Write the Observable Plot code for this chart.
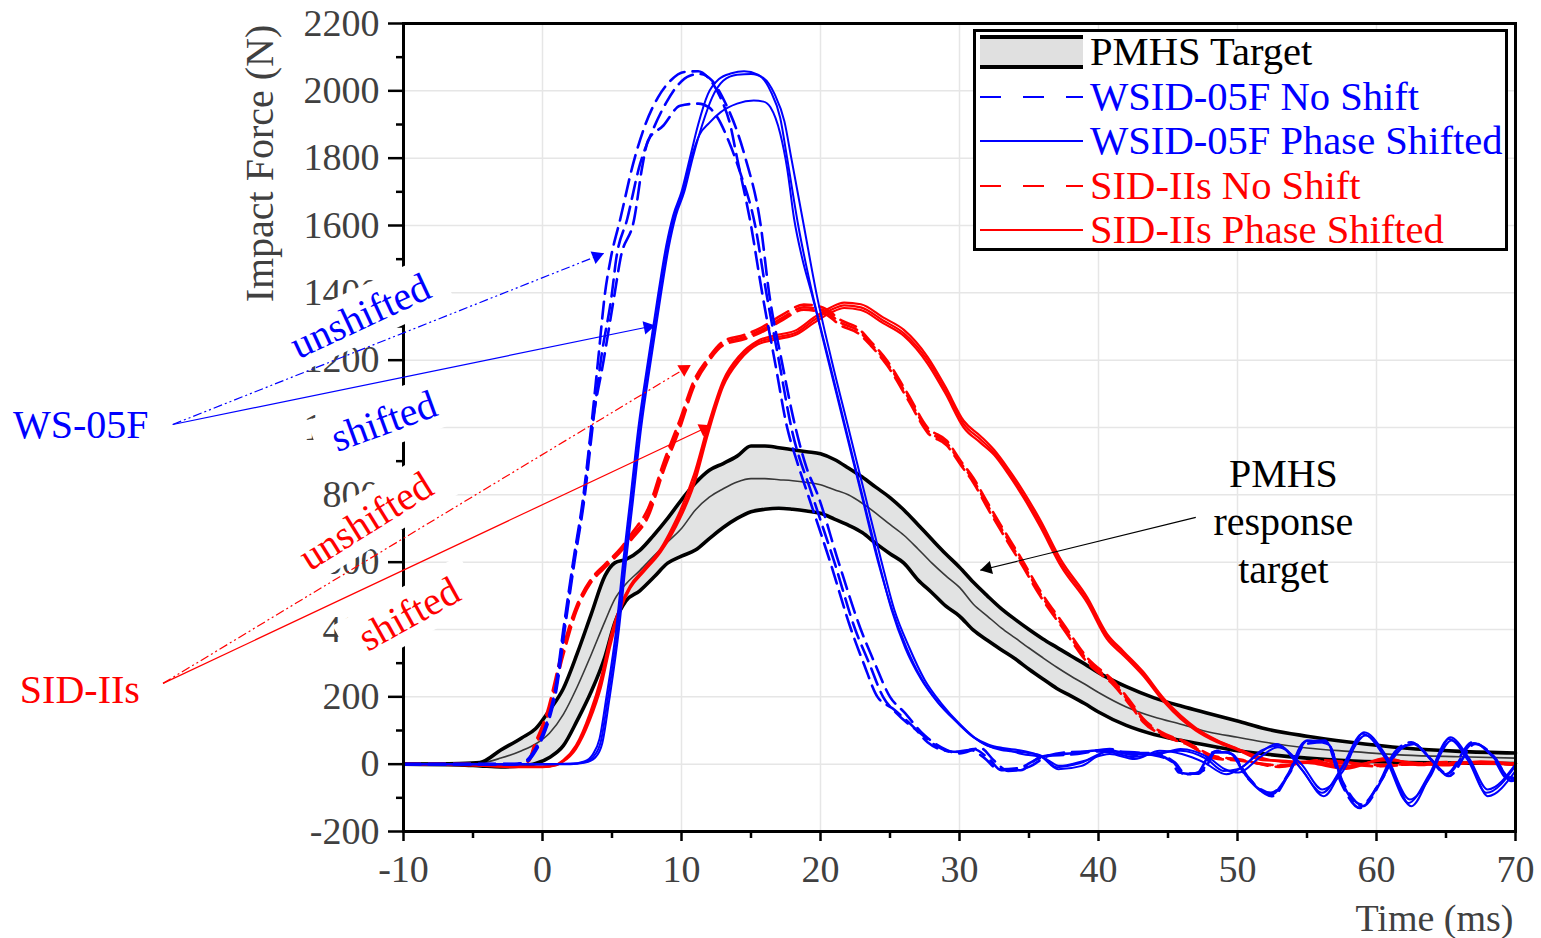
<!DOCTYPE html>
<html><head><meta charset="utf-8">
<script src="https://cdn.jsdelivr.net/npm/d3@7"></script>
<script src="https://cdn.jsdelivr.net/npm/@observablehq/plot@0.6"></script>
<style>
body{margin:0;background:#fff;font-family:"Liberation Serif","Times New Roman",serif;}
#wrap{position:relative;width:1541px;height:938px;overflow:hidden;}
#legend{position:absolute;left:973px;top:29px;width:535px;height:222px;border:3px solid #000;box-sizing:border-box;background:#fff;}
.row{position:absolute;left:4px;height:44px;display:flex;align-items:center;}
.row span{font-size:40.6px;margin-left:7px;line-height:1;white-space:nowrap;}
</style></head><body><div id="wrap"></div>
<script>
// ---------------- DATA ----------------
const xTicks = [-10, 0, 10, 20, 30, 40, 50, 60, 70];
const yTicks = [-200, 0, 200, 400, 600, 800, 1000, 1200, 1400, 1600, 1800, 2000, 2200];

// PMHS corridor (time in ms, force in N)
const pmhsTime  = [-10,-6,-4.5,-3,-1.5,-0.5,0.5,1.5,2.5,3.5,4.5,5.2,6,7,8,9,10,11,12,13,14,15,16,17,18,19,20,21,22,23,24,25,26,27,28,29,30,31,32,33,34,35,36,37,38,39,40,42,44,46,48,50,52,55,58,62,66,70];
const pmhsUpper = [0,2,5,42,78,105,160,225,329,445,560,598,608,635,680,730,785,835,873,893,915,945,945,940,934,928,922,905,880,853,822,792,755,712,668,625,585,540,500,462,430,400,372,347,322,298,272,230,197,172,150,128,105,83,66,48,38,33];
const pmhsMean  = [0,0,3,18,40,60,92,148,230,325,425,490,535,575,618,660,700,755,793,818,838,848,848,845,842,837,830,815,800,775,745,712,680,640,598,560,525,475,440,405,375,345,316,288,262,238,213,170,140,118,95,80,65,48,38,27,22,18];
const pmhsLower = [0,-2,-5,-8,-5,2,20,55,130,215,320,420,485,515,555,597,618,636,670,703,730,750,757,760,757,752,745,728,710,688,655,625,597,548,510,470,440,398,368,340,313,282,253,225,203,180,155,115,88,70,55,40,30,18,10,5,3,2];

// WSID-05F, no shift (three tests) [time, force]
const wsidNoShiftA = [[-10,0],[-5,0],[-2,0],[-1.2,10],[-0.6,40],[0,90],[0.5,150],[0.9,220],[1.5,400],[2.2,600],[2.95,800],[3.5,1000],[4.0,1200],[4.5,1400],[4.9,1500],[5.6,1620],[6.5,1780],[7.4,1900],[8.3,1980],[9.2,2030],[10.2,2056],[11.2,2058],[11.9,2040],[12.8,1980],[13.5,1900],[14,1800],[15,1600],[15.8,1400],[16.7,1200],[17.6,1000],[18.3,900],[19.1,800],[20.7,600],[22.2,400],[23.1,300],[24.1,200],[25.2,165],[26.7,110],[27.7,65],[29,40],[30.1,36],[31,45],[32.2,12],[33,-18],[34.4,-18],[35.8,21],[38.2,33],[40.6,42],[42,33],[43.5,33],[45.2,10],[45.8,-25],[47,-30],[48.2,35],[49.4,35],[50.6,-35],[52.4,-90],[53.7,-25],[54.8,65],[56.3,70],[57.5,-60],[58.8,-130],[60.2,-55],[61.3,35],[62.5,65],[63.8,20],[65,-30],[66.9,65],[68.3,25],[69.5,-45],[70,-40]];
const wsidNoShiftB = [[-10,0],[-5,0],[-2,0],[-1.1,8],[-0.5,38],[0.1,88],[0.6,150],[1.0,220],[1.6,400],[2.3,600],[3.05,800],[3.6,1000],[4.2,1200],[5.0,1400],[5.3,1500],[6.1,1620],[7.0,1780],[7.9,1880],[8.9,1965],[9.8,2020],[10.6,2045],[11.3,2050],[12.2,2030],[13.2,1960],[14,1880],[14.6,1800],[15.7,1600],[16.3,1400],[17.2,1200],[18.2,1000],[19.0,880],[19.8,800],[21.3,600],[22.9,400],[23.9,300],[25,200],[26,155],[27.5,85],[28.7,50],[30,32],[31.5,48],[32.5,10],[33.5,-20],[35,-8],[36.5,25],[38.5,30],[40.8,45],[42.5,28],[44,30],[45.5,5],[46.3,-30],[47.5,-20],[48.5,40],[49.6,30],[50.8,-40],[52.5,-95],[53.8,-20],[55,70],[56.5,60],[57.7,-70],[59,-125],[60.4,-45],[61.5,40],[62.7,60],[64,10],[65.2,-35],[67.1,60],[68.5,20],[69.7,-50],[70,-45]];
const wsidNoShiftC = [[-10,0],[-5,0],[-2,0],[-1.15,9],[-0.55,39],[0.05,89],[0.55,150],[0.95,220],[1.55,400],[2.25,600],[3.0,800],[3.55,1000],[4.4,1200],[5.2,1400],[5.6,1500],[6.6,1620],[7.2,1780],[7.6,1853],[8.7,1897],[9.9,1956],[11.2,1962],[12,1950],[12.6,1920],[13.4,1850],[14.2,1760],[15.3,1600],[16.1,1400],[17,1200],[17.9,1000],[19.4,800],[21,600],[22.5,400],[23.5,300],[24.5,200],[25.5,150],[27.1,95],[28.2,58],[29.5,36],[30.8,42],[31.8,18],[32.8,-15],[34.2,-12],[35.6,15],[38,36],[40.4,38],[42.2,36],[43.8,28],[45.4,5],[46.1,-28],[47.2,-28],[48.4,38],[49.5,32],[50.7,-38],[52.4,-85],[53.7,-30],[54.9,60],[56.4,65],[57.6,-55],[58.9,-120],[60.3,-50],[61.4,30],[62.6,62],[63.9,15],[65.1,-28],[67,62],[68.4,22],[69.6,-40],[70,-38]];

// WSID-05F, phase shifted (three tests) [time, force]
const wsidShiftA = [[-10,0],[-5,0],[0,0],[2,1],[3,8],[3.6,28],[4.1,75],[4.6,200],[5.3,400],[5.8,600],[6.3,780],[6.9,1000],[7.6,1200],[8.3,1390],[8.9,1540],[9.4,1630],[10,1700],[10.6,1800],[11.2,1900],[11.9,1990],[12.7,2035],[13.6,2052],[14.5,2058],[15.5,2048],[16.4,2000],[17.1,1920],[17.6,1800],[18.4,1600],[19.4,1400],[20.6,1200],[21.8,1000],[23,800],[24.2,600],[25.1,460],[26.1,345],[27.2,255],[28.4,185],[29.8,125],[31,80],[32,55],[33,42],[34.6,35],[35.8,27],[37,-9],[38.7,3],[40.6,36],[42.5,21],[44.2,33],[45.9,40],[47.8,15],[49,-20],[50,-15],[51.5,30],[52.8,60],[54.5,-10],[56.1,-85],[57.5,-10],[59,90],[60.6,20],[62.3,-115],[63.8,-30],[65.2,75],[66.6,10],[67.9,-85],[70,-5]];
const wsidShiftB = [[-10,0],[-5,0],[0,0],[2,0],[3,4],[3.8,20],[4.3,62],[4.8,190],[5.5,400],[6.0,600],[6.5,780],[7.1,1000],[7.8,1200],[8.5,1390],[9.1,1540],[9.6,1630],[10.2,1700],[10.8,1800],[11.5,1900],[12.2,1980],[13,2030],[14,2048],[15,2050],[15.9,2038],[16.7,1990],[17.4,1910],[17.9,1800],[18.8,1600],[19.7,1400],[20.8,1200],[22,1000],[23.2,800],[24.4,600],[25.3,460],[26.4,345],[27.5,250],[28.7,180],[30,120],[31.2,75],[32.2,52],[33.2,45],[34.5,30],[36,20],[37.2,-5],[39,10],[40.8,30],[42.6,15],[44.4,40],[46,30],[47.6,5],[49.2,-30],[50.3,-10],[51.7,40],[53,55],[54.7,-20],[56.2,-95],[57.7,0],[59.2,85],[60.8,10],[62.5,-125],[64,-20],[65.4,70],[66.8,0],[68,-95],[70,-20]];
const wsidShiftC = [[-10,0],[-5,0],[0,0],[2,1],[3,6],[3.7,24],[4.2,68],[4.7,195],[5.4,400],[5.9,600],[6.4,780],[7,1000],[7.7,1200],[8.4,1390],[9,1540],[9.5,1630],[10.1,1700],[10.7,1800],[11.3,1870],[12,1905],[12.8,1936],[14,1962],[15.2,1971],[15.9,1968],[16.4,1951],[17.1,1873],[17.6,1770],[18.1,1620],[18.7,1500],[19.35,1400],[20.55,1200],[21.75,1000],[22.95,800],[24.15,600],[25.15,460],[26.2,345],[27.3,252],[28.5,182],[29.9,122],[31.1,78],[32.1,58],[33.1,48],[34.5,40],[35.9,22],[37.1,-15],[38.8,-5],[40.7,40],[42.5,28],[44.3,30],[45.9,45],[47.9,20],[49.1,-15],[50.1,-25],[51.6,20],[52.9,50],[54.6,0],[56.1,-75],[57.6,-20],[59.1,95],[60.7,25],[62.4,-105],[63.9,-35],[65.3,80],[66.7,15],[68,-75],[70,0]];

// SID-IIs, no shift (three tests)
const sidNoShiftTime = [-10,-5,-2,-1,-0.6,0.3,1.5,2.4,3.5,4.4,5.6,6.5,7.6,8.7,9.9,10.9,11.9,13,14.5,15.7,17.3,18.8,20.2,21.5,22.7,23.6,24.8,26.3,27.7,29.1,30.1,31,32,33,34.4,35.8,37.5,39.2,41.1,42.5,43.2,44.5,46.4,48.3,50.2,53,56,60,65,70];
const sidNoShiftA = [0,0,-3,10,50,140,338,457,546,585,635,680,745,882,1012,1131,1199,1250,1268,1288,1327,1357,1348,1310,1288,1250,1191,1090,992,953,894,843,770,700,606,507,407,309,240,169,131,92,62,21,12,-5,10,-5,5,0];
const sidNoShiftB = [0,0,-2,12,55,150,350,465,550,590,640,690,760,895,1025,1140,1205,1256,1275,1296,1336,1365,1356,1318,1295,1256,1198,1098,1000,960,900,850,778,708,614,515,415,316,246,175,136,96,64,24,14,-8,12,-2,3,2];
const sidNoShiftC = [0,0,-4,8,45,132,325,450,540,580,630,672,735,870,1000,1122,1193,1244,1262,1282,1320,1350,1340,1302,1280,1244,1184,1082,985,946,888,836,762,692,598,500,400,302,234,163,126,88,58,18,10,-3,8,-6,6,-2];

// SID-IIs, phase shifted (three tests)
const sidShiftTime = [-10,-5,-2,0,1,1.5,2.4,3.4,4.2,4.9,5.6,6.3,7.3,8.5,9.3,9.9,10.9,11.9,13,14.2,15.5,16.9,18.3,19.5,20.7,21.7,22.9,24.5,26,27.7,29,30.3,31.5,32.5,33.5,34.6,35.8,37.3,39.2,40.6,41.8,43.2,44.7,45.9,47,48.5,50,51.8,53.5,55.4,57.8,60.7,63,65,67.5,70];
const sidShiftA = [0,-3,-8,-8,-2,10,50,140,240,368,466,526,576,635,690,740,843,992,1131,1208,1253,1268,1283,1318,1348,1363,1357,1318,1280,1200,1110,1010,965,925,870,800,716,597,487,380,330,270,190,140,105,70,45,15,8,5,-10,15,0,0,5,0];
const sidShiftB = [0,-2,-6,-7,-1,12,55,150,255,380,470,530,580,640,700,752,860,1005,1140,1215,1258,1275,1290,1326,1356,1371,1366,1327,1290,1210,1120,1020,975,933,878,810,726,607,495,388,335,275,195,145,108,72,46,18,6,8,-5,12,3,-4,8,2];
const sidShiftC = [0,-4,-9,-9,-3,8,45,130,228,355,458,522,572,630,682,730,830,980,1122,1200,1247,1262,1277,1310,1340,1355,1349,1310,1272,1190,1100,1000,955,918,862,792,706,588,478,372,323,263,185,135,100,66,42,12,10,2,-14,18,-3,2,3,-2];

const legendLabels = ["PMHS Target", "WSID-05F No Shift", "WSID-05F Phase Shifted", "SID-IIs No Shift", "SID-IIs Phase Shifted"];

// ---------------- LAYOUT / STYLE ----------------
const W = 1541, H = 938, ML = 403, MR = 26, MT = 23, MB = 107;
const X0 = -10, X1 = 70, Y0 = -200, Y1 = 2200;
const pxPerT = (W - ML - MR) / (X1 - X0);
const pxPerF = (H - MT - MB) / (Y1 - Y0);
const BLUE = "#0000ff", RED = "#ff0000", AXIS_TEXT = "#404040";
const FONT = '"Liberation Serif","Times New Roman",serif';
const DASH = "17,8";
const legendStyles = [
  {kind: "band"}, {color: BLUE, dash: "21,22"}, {color: BLUE}, {color: RED, dash: "21,22"}, {color: RED}
];

// ---------------- BUILD ROWS ----------------
const pmhs = pmhsTime.map((t, i) => ({t, hi: pmhsUpper[i], mean: pmhsMean[i], lo: pmhsLower[i]}));
const fromPairs = (pairs, s) => pairs.map(([t, f]) => ({t, f, s}));
const fromCols = (times, vals, s) => times.map((t, i) => ({t, f: vals[i], s}));

const blueDashed = [...fromPairs(wsidNoShiftA, "a"), ...fromPairs(wsidNoShiftB, "b"), ...fromPairs(wsidNoShiftC, "c")];
const blueSolid = [...fromPairs(wsidShiftA, "a"), ...fromPairs(wsidShiftB, "b"), ...fromPairs(wsidShiftC, "c")];
const redDashed = [...fromCols(sidNoShiftTime, sidNoShiftA, "a"), ...fromCols(sidNoShiftTime, sidNoShiftB, "b"), ...fromCols(sidNoShiftTime, sidNoShiftC, "c")];
const redSolid = [...fromCols(sidShiftTime, sidShiftA, "a"), ...fromCols(sidShiftTime, sidShiftB, "b"), ...fromCols(sidShiftTime, sidShiftC, "c")];

// annotations (data units)
const annoArrows = [
  {x1: -26.6, y1: 1009, x2: 4.4, y2: 1517, color: BLUE, dashed: true},
  {x1: -26.6, y1: 1009, x2: 8.1, y2: 1303, color: BLUE, dashed: false},
  {x1: -27.3, y1: 240, x2: 10.65, y2: 1185, color: RED, dashed: true},
  {x1: -27.3, y1: 240, x2: 12.1, y2: 1006, color: RED, dashed: false},
  {x1: 47.0, y1: 733, x2: 31.5, y2: 576, color: "#000", dashed: false}
];
annoArrows.forEach(d => {
  const dx = (d.x2 - d.x1) * pxPerT, dy = -(d.y2 - d.y1) * pxPerF;
  const th = Math.atan2(dy, dx);
  d.rot = th * 180 / Math.PI + 90;
  d.hx = d.x2 - Math.cos(th) * 7.5 / pxPerT;
  d.hy = d.y2 + Math.sin(th) * 7.5 / pxPerF;
});
const rotLabels = [
  {x: -13.1, y: 1330, text: "unshifted", color: BLUE, rot: -25},
  {x: -11.4, y: 1018, text: "shifted", color: BLUE, rot: -20},
  {x: -12.7, y: 721, text: "unshifted", color: RED, rot: -32},
  {x: -9.6, y: 445, text: "shifted", color: RED, rot: -29}
];

const lineOpts = {x: "t", y: "f", z: "s", curve: "monotone-x"};

const chart = Plot.plot({
  width: W, height: H,
  marginLeft: ML, marginRight: MR, marginTop: MT, marginBottom: MB,
  x: {domain: [X0, X1]},
  y: {domain: [Y0, Y1]},
  style: {fontFamily: FONT, background: "white", color: "black"},
  marks: [
    Plot.gridX(xTicks, {stroke: "#e6e6e6", strokeOpacity: 1, strokeWidth: 1.5}),
    Plot.gridY(yTicks, {stroke: "#e6e6e6", strokeOpacity: 1, strokeWidth: 1.5}),
    Plot.areaY(pmhs, {x: "t", y1: "lo", y2: "hi", fill: "#e2e3e3", curve: "monotone-x"}),
    Plot.line(pmhs, {x: "t", y: "mean", stroke: "#383838", strokeWidth: 1.6, curve: "monotone-x"}),
    Plot.line(pmhs, {x: "t", y: "hi", stroke: "#000", strokeWidth: 3.6, curve: "monotone-x"}),
    Plot.line(pmhs, {x: "t", y: "lo", stroke: "#000", strokeWidth: 3.6, curve: "monotone-x"}),
    Plot.line(redDashed, {...lineOpts, stroke: RED, strokeWidth: 2.6, strokeDasharray: DASH}),
    Plot.line(redSolid, {...lineOpts, stroke: RED, strokeWidth: 2.2}),
    Plot.line(blueDashed, {...lineOpts, stroke: BLUE, strokeWidth: 2.6, strokeDasharray: DASH}),
    Plot.line(blueSolid, {...lineOpts, stroke: BLUE, strokeWidth: 2.0}),
    Plot.frame({stroke: "#000", strokeWidth: 3}),
    Plot.axisY(yTicks, {tickSize: 15, tickPadding: 9, fontSize: 38, fill: AXIS_TEXT, stroke: "#000", strokeWidth: 2.5, tickFormat: d => String(d), label: null}),
    Plot.axisY(yTicks.slice(0, -1).map(v => v + 100), {tickSize: 7, stroke: "#000", strokeWidth: 2.5, tickFormat: () => "", label: null}),
    Plot.axisX(xTicks, {tickSize: 10, tickPadding: 14, fontSize: 38, fill: AXIS_TEXT, stroke: "#000", strokeWidth: 2.5, tickFormat: d => String(d), label: null}),
    Plot.axisX(xTicks.slice(0, -1).map(v => v + 5), {tickSize: 7, stroke: "#000", strokeWidth: 2.5, tickFormat: () => "", label: null}),
    Plot.text([{label: "Impact Force (N)"}], {text: "label", frameAnchor: "top-left", dx: -143, dy: 140, rotate: -90, textAnchor: "middle", lineAnchor: "middle", fontSize: 40, fill: AXIS_TEXT}),
    Plot.text([{label: "Time (ms)"}], {text: "label", frameAnchor: "bottom-right", dx: -2, dy: 87, textAnchor: "end", lineAnchor: "middle", fontSize: 38, fill: AXIS_TEXT}),
    // rotated annotation labels (white boxes are added behind them below)
    ...rotLabels.map(d => Plot.text([d], {x: "x", y: "y", text: "text", rotate: d.rot, fill: d.color, fontSize: 40, textAnchor: "middle", lineAnchor: "middle"})),
    Plot.text([{x: -38.1, y: 1006, label: "WS-05F"}], {x: "x", y: "y", text: "label", textAnchor: "start", lineAnchor: "middle", fontSize: 40, fill: BLUE}),
    Plot.text([{x: -37.6, y: 220, label: "SID-IIs"}], {x: "x", y: "y", text: "label", textAnchor: "start", lineAnchor: "middle", fontSize: 40, fill: RED}),
    Plot.text([{x: 53.3, y: 727, label: "PMHS\nresponse\ntarget"}], {x: "x", y: "y", text: "label", textAnchor: "middle", lineAnchor: "middle", lineHeight: 1.21, fontSize: 40, fill: "#000"}),
    Plot.link(annoArrows.filter(d => d.dashed), {x1: "x1", y1: "y1", x2: "x2", y2: "y2", stroke: "color", strokeWidth: 1.2, strokeDasharray: "9,3,2,3,2,3"}),
    Plot.link(annoArrows.filter(d => !d.dashed), {x1: "x1", y1: "y1", x2: "x2", y2: "y2", stroke: "color", strokeWidth: 1.2}),
    Plot.dot(annoArrows, {x: "hx", y: "hy", symbol: "triangle", r: 5, fill: "color", stroke: null, rotate: "rot"})
  ]
});

const wrap = document.getElementById("wrap");
wrap.appendChild(chart);

// white boxes behind the rotated annotation labels
const boxed = new Set(rotLabels.map(d => d.text));
chart.querySelectorAll("text").forEach(t => {
  const tr = t.getAttribute("transform");
  if (!boxed.has(t.textContent) || !tr || !/rotate/.test(tr)) return;
  const bb = t.getBBox();
  const r = document.createElementNS("http://www.w3.org/2000/svg", "rect");
  r.setAttribute("x", bb.x - 18);
  r.setAttribute("y", bb.y - 4);
  r.setAttribute("width", bb.width + 36);
  r.setAttribute("height", bb.height + 8);
  r.setAttribute("fill", "white");
  r.setAttribute("stroke", "none");
  r.setAttribute("transform", tr);
  t.parentNode.insertBefore(r, t);
});

// legend (HTML overlay)
const legend = document.createElement("div");
legend.id = "legend";
const rowTops = [-2, 43, 87, 132, 176];
legendLabels.forEach((lab, i) => {
  const st = legendStyles[i];
  const row = document.createElement("div");
  row.className = "row";
  row.style.top = rowTops[i] + "px";
  let sw;
  if (st.kind === "band") {
    sw = `<svg width="103" height="36"><rect x="0" y="3" width="103" height="30" fill="#e0e0e0"/><line x1="0" x2="103" y1="3" y2="3" stroke="#000" stroke-width="4"/><line x1="0" x2="103" y1="33" y2="33" stroke="#000" stroke-width="4"/></svg>`;
  } else {
    sw = `<svg width="103" height="36"><line x1="0" x2="103" y1="18" y2="18" stroke="${st.color}" stroke-width="2" ${st.dash ? `stroke-dasharray="${st.dash}"` : ""}/></svg>`;
  }
  row.innerHTML = sw + `<span style="color:${st.color || "#000"}">${lab}</span>`;
  legend.appendChild(row);
});
wrap.appendChild(legend);
</script></body></html>
